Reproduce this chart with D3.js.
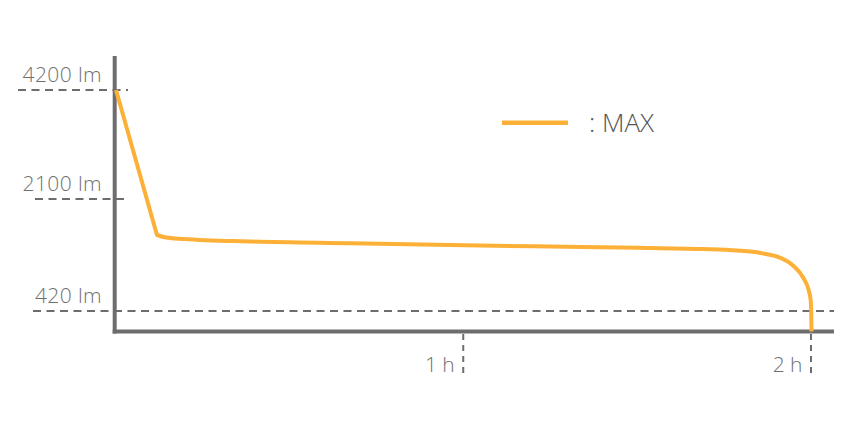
<!DOCTYPE html>
<html>
<head>
<meta charset="utf-8">
<script src="https://cdn.jsdelivr.net/npm/d3@7/dist/d3.min.js"></script>
<style>
  html, body { margin: 0; padding: 0; background: #fff; }
  svg { display: block; }
  text { font-family: "Open Sans", "Noto Sans", sans-serif; font-weight: 300; fill: #707070; }
</style>
</head>
<body>
<svg id="chart" width="862" height="422"></svg>
<script>
// ---- data ----
const timeMinutes = [0, 7.07, 8.6, 11.7, 23.3, 40.5, 60.2, 75, 90, 100.9, 107.2, 111.2, 114.7, 116.9, 118.6, 119.5, 119.85, 119.95, 120];
const lumens      = [4200, 1560, 1522, 1500, 1462, 1435, 1405, 1387, 1370, 1350, 1327, 1290, 1215, 1095, 915, 735, 585, 420, 0];
const yTickValues = [420, 2100, 4200];
const yTickLabels = ["420 lm", "2100 lm", "4200 lm"];
const xTickValues = [60, 120];
const xTickLabels = ["1 h", "2 h"];
const seriesName = "MAX";

// ---- layout ----
const lineColor = "#fdb037";
const axisColor = "#6d6d6f";
const dashColor = "#6d6d6f";
const gridStartX = [33, 35, 18];   // left start of each dashed y gridline
const gridEndX = [834, 128, 128];

const svg = d3.select("#chart");

const x = d3.scaleLinear().domain([0, 120]).range([116, 811.5]);
const y = d3.scaleLinear().domain([0, 420, 2100, 4200]).range([331.5, 311, 199, 90]);

// dashed y gridlines
svg.append("g").selectAll("line").data(yTickValues).join("line")
  .attr("x1", (d, i) => gridStartX[i])
  .attr("x2", (d, i) => gridEndX[i])
  .attr("y1", d => y(d)).attr("y2", d => y(d))
  .attr("stroke", dashColor).attr("stroke-width", 2)
  .attr("stroke-dasharray", "8,5.5");

// y labels
svg.append("g").selectAll("text").data(yTickValues).join("text")
  .attr("x", 102)
  .attr("y", d => y(d) - 8.5)
  .attr("text-anchor", "end")
  .attr("font-size", 21)
  .attr("letter-spacing", 0.4)
  .text((d, i) => yTickLabels[i]);

// x tick dashed verticals
svg.append("g").selectAll("line").data(xTickValues).join("line")
  .attr("x1", d => x(d) - 0.5).attr("x2", d => x(d) - 0.5)
  .attr("y1", 334).attr("y2", 374)
  .attr("stroke", dashColor).attr("stroke-width", 2)
  .attr("stroke-dasharray", "6,5");

// x labels
svg.append("g").selectAll("text").data(xTickValues).join("text")
  .attr("x", d => x(d) - 9)
  .attr("y", 371.5)
  .attr("text-anchor", "end")
  .attr("font-size", 21)
  .text((d, i) => xTickLabels[i]);

// axes lines
svg.append("line").attr("x1", 114.7).attr("x2", 114.7).attr("y1", 56).attr("y2", 333.5)
  .attr("stroke", axisColor).attr("stroke-width", 4);
svg.append("line").attr("x1", 112.7).attr("x2", 834).attr("y1", 331.5).attr("y2", 331.5)
  .attr("stroke", axisColor).attr("stroke-width", 3.8);

// series line: straight initial drop, smooth thereafter
const pts = timeMinutes.map((t, i) => [t, lumens[i]]);
const straight = d3.line().x(d => x(d[0])).y(d => y(d[1])).curve(d3.curveLinear);
const smooth = d3.line().x(d => x(d[0])).y(d => y(d[1])).curve(d3.curveMonotoneX);
const dStraight = straight(pts.slice(0, 2));
const dSmooth = smooth(pts.slice(1)).replace(/^M/, "L");
svg.append("path")
  .attr("d", dStraight + dSmooth)
  .attr("fill", "none")
  .attr("stroke", lineColor)
  .attr("stroke-width", 4)
  .attr("stroke-linejoin", "round");

// legend
svg.append("line").attr("x1", 502).attr("x2", 568).attr("y1", 122.7).attr("y2", 122.7)
  .attr("stroke", lineColor).attr("stroke-width", 4.5);
svg.append("text").attr("x", 589).attr("y", 131.7)
  .attr("font-size", 26)
  .style("fill", "#555")
  .text(": " + seriesName);
</script>
</body>
</html>
